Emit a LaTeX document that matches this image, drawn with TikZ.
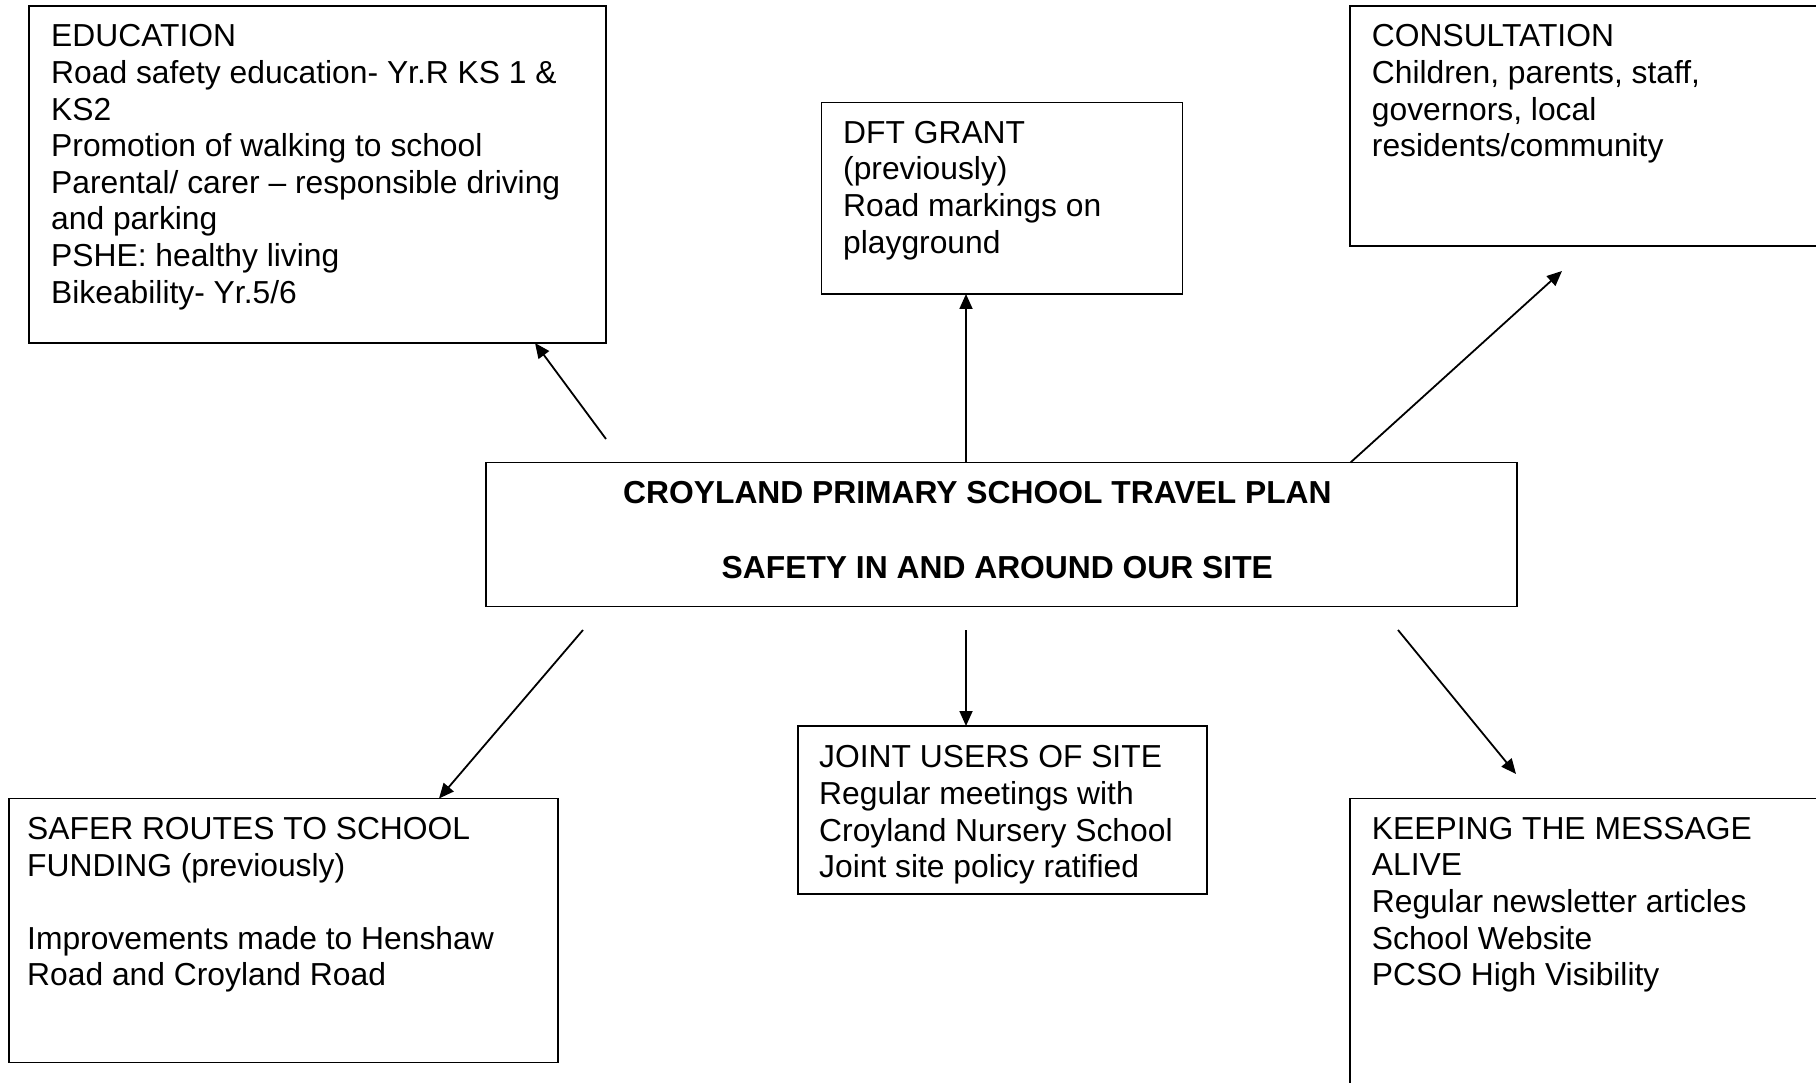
\documentclass[tikz,border=0pt]{standalone}
\usepackage{fontspec}
\setmainfont{Liberation Sans}
\usetikzlibrary{arrows.meta}
\begin{document}
\begin{tikzpicture}[x=1pt,y=-1pt,
  frame/.style={draw,line width=1.8pt,inner sep=0pt,outer sep=0pt,anchor=north west},
  txt/.style={anchor=north west,inner sep=0pt,align=left,font=\fontsize{31.8}{36.6}\selectfont},
  ttl/.style={anchor=base west,inner sep=0pt,font=\fontsize{31.8}{36.6}\selectfont\bfseries},
  arr/.style={line width=1.8pt,-{Triangle[length=15pt,width=13pt]}},
]
\useasboundingbox (0,0) rectangle (1816,1083);
\clip (0,0) rectangle (1816,1083);
\fill[white] (0,0) rectangle (1816,1083);

% frames
\node[frame,minimum width=577pt,minimum height=337pt] (edu) at (29,6) {};
\node[frame,minimum width=361pt,minimum height=191.5pt] (dft) at (821.5,102.5) {};
\node[frame,minimum width=500pt,minimum height=240pt] (cons) at (1350,6) {};
\node[frame,minimum width=1031pt,minimum height=144pt] (plan) at (486,462.5) {};
\node[frame,minimum width=549pt,minimum height=264pt] (safer) at (9,798.5) {};
\node[frame,minimum width=409pt,minimum height=168pt] (joint) at (798,726) {};
\node[frame,minimum width=500pt,minimum height=320pt] (keep) at (1350,798.5) {};

% texts
\node[txt] (edut) at (51,21) {\strut EDUCATION\\
\strut Road safety education- Yr.R KS 1 \&\\
\strut KS2\\
\strut Promotion of walking to school\\
\strut Parental/ carer – responsible driving\\
\strut and parking\\
\strut PSHE: healthy living\\
\strut Bikeability- Yr.5/6};
\node[txt] (dftt) at (843,117.4) {\strut DFT GRANT\\
\strut (previously)\\
\strut Road markings on\\
\strut playground};
\node[txt] (const) at (1371.7,21) {\strut CONSULTATION\\
\strut Children, parents, staff,\\
\strut governors, local\\
\strut residents/community};
\node[ttl] (plant1) at (623,503.3) {CROYLAND PRIMARY SCHOOL TRAVEL PLAN};
\node[ttl] (plant2) at (721.5,578.3) {SAFETY IN AND AROUND OUR SITE};
\node[txt] (safert) at (27,813.7) {\strut SAFER ROUTES TO SCHOOL\\
\strut FUNDING (previously)\\
\strut \\
\strut Improvements made to Henshaw\\
\strut Road and Croyland Road};
\node[txt] (jointt) at (819,742) {\strut JOINT USERS OF SITE\\
\strut Regular meetings with\\
\strut Croyland Nursery School\\
\strut Joint site policy ratified};
\node[txt] (keept) at (1371.7,813.4) {\strut KEEPING THE MESSAGE\\
\strut ALIVE\\
\strut Regular newsletter articles\\
\strut School Website\\
\strut PCSO High Visibility};

% connector end points
\coordinate (s1) at (606,439);   \coordinate (e1) at (535,343);
\coordinate (s2) at (966,462.5); \coordinate (e2) at (966,294);
\coordinate (s3) at (1350.5,462.5); \coordinate (e3) at (1562,271);
\coordinate (s4) at (583,630);   \coordinate (e4) at (439,798.5);
\coordinate (s5) at (966,630);   \coordinate (e5) at (966,726);
\coordinate (s6) at (1398,630);  \coordinate (e6) at (1516,774);

\draw[arr] (s1) -- (e1);
\draw[arr] (s2) -- (e2);
\draw[arr] (s3) -- (e3);
\draw[arr] (s4) -- (e4);
\draw[arr] (s5) -- (e5);
\draw[arr] (s6) -- (e6);
\end{tikzpicture}
\end{document}
